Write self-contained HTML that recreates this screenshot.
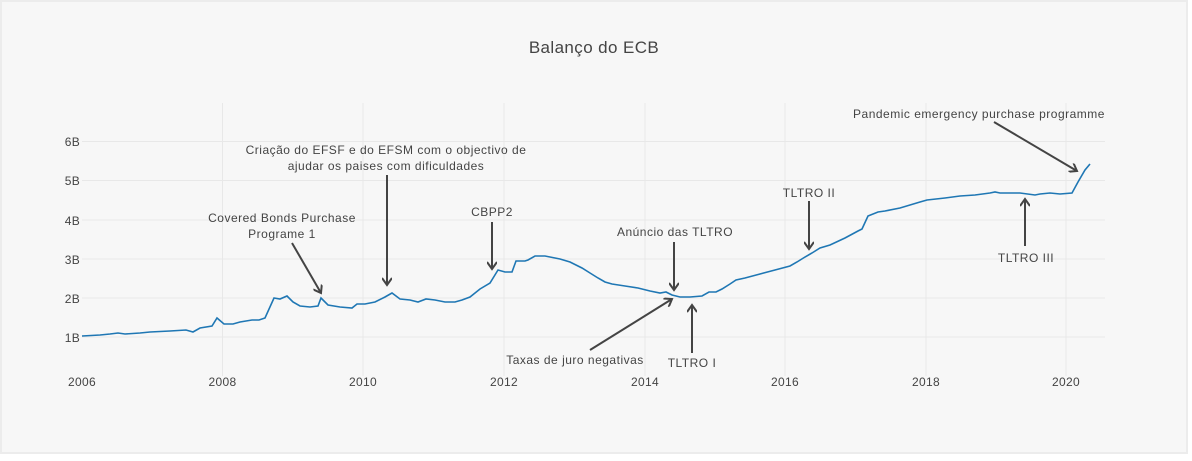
<!DOCTYPE html>
<html><head><meta charset="utf-8"><style>
html,body{margin:0;padding:0;background:#fff;}
svg{display:block;}
text{font-family:"Liberation Sans",sans-serif;fill:#444;}
</style></head><body>
<svg width="1192" height="461" viewBox="0 0 1192 461" xmlns="http://www.w3.org/2000/svg">
<rect x="0" y="0" width="1192" height="461" fill="#fff"/>
<rect x="1" y="1" width="1186" height="452" fill="#f7f7f7" stroke="#ececec" stroke-width="2"/>
<defs><marker id="ah" markerWidth="10" markerHeight="10" refX="8" refY="5" orient="auto" markerUnits="userSpaceOnUse"><path d="M1,0 L8,5 L1,10" fill="none" stroke="#444" stroke-width="2"/></marker></defs>
<g stroke="#e8e8e8" stroke-width="1">
<line x1="222.5" y1="103" x2="222.5" y2="376"/><line x1="363" y1="103" x2="363" y2="376"/><line x1="504" y1="103" x2="504" y2="376"/><line x1="645" y1="103" x2="645" y2="376"/><line x1="785" y1="103" x2="785" y2="376"/><line x1="926" y1="103" x2="926" y2="376"/><line x1="1066" y1="103" x2="1066" y2="376"/>
<line x1="82" y1="337" x2="1105" y2="337"/><line x1="82" y1="298" x2="1105" y2="298"/><line x1="82" y1="259" x2="1105" y2="259"/><line x1="82" y1="220" x2="1105" y2="220"/><line x1="82" y1="180.5" x2="1105" y2="180.5"/><line x1="82" y1="141.5" x2="1105" y2="141.5"/>
</g>
<text x="594" y="53" text-anchor="middle" font-size="17" letter-spacing="0.4">Balanço do ECB</text>
<g font-size="12" text-anchor="end" letter-spacing="0.3">
<text x="80" y="342">1B</text><text x="80" y="303">2B</text><text x="80" y="264">3B</text><text x="80" y="225">4B</text><text x="80" y="185">5B</text><text x="80" y="146">6B</text>
</g>
<g font-size="12" text-anchor="middle" letter-spacing="0.3">
<text x="82" y="386">2006</text><text x="222.5" y="386">2008</text><text x="363" y="386">2010</text><text x="504" y="386">2012</text><text x="645" y="386">2014</text><text x="785" y="386">2016</text><text x="926" y="386">2018</text><text x="1066" y="386">2020</text>
</g>
<polyline fill="none" stroke="#1f77b4" stroke-width="1.6" points="82,336 100,335 110,334 118,333 125,334 140,333 150,332 170,331 186,330 193,332 200,328 212,326 217,318 224,324 233,324 240,322 252,320 259,320 265,318 274,298 280,299 287,296 293,302 300,306 310,307 318,306 321,298 328,305 340,307 352,308 357,304 365,304 375,302 385,297 392,293 400,299 410,300 418,302 426,299 435,300 445,302 455,302 462,300 470,297 480,289 490,283 498,270 505,272 512,272 516,261 525,261 528,260 535,256 545,256 560,259 570,262 582,268 590,273 598,278 605,282 612,284 625,286 638,288 650,291 660,293 666,292 672,295 680,297 690,297 702,296 709,292 716,292 722,289 730,284 736,280 745,278 760,274 775,270 790,266 797,262 805,257 812,253 820,248 830,245 845,238 858,231 862,229 868,216 878,212 885,211 900,208 920,202 927,200 945,198 960,196 975,195 990,193 995,192 1000,193 1020,193 1035,195 1040,194 1050,193 1060,194 1072,193 1078,182 1085,170 1090,164"/>
<g stroke="#444" stroke-width="2" fill="none" marker-end="url(#ah)">
<line x1="292" y1="243" x2="321" y2="293"/>
<line x1="387" y1="175" x2="387" y2="285"/>
<line x1="492" y1="222" x2="492" y2="269"/>
<line x1="674" y1="242" x2="674" y2="290"/>
<line x1="590" y1="350" x2="672" y2="299"/>
<line x1="692" y1="353" x2="692" y2="305"/>
<line x1="809" y1="201" x2="809" y2="249"/>
<line x1="1025" y1="246" x2="1025" y2="199"/>
<line x1="994" y1="122" x2="1077" y2="171"/>
</g>
<g font-size="12" text-anchor="middle" letter-spacing="0.5">
<text x="282" y="222">Covered Bonds Purchase</text><text x="282" y="238">Programe 1</text>
<text x="386" y="154">Criação do EFSF e do EFSM com o objectivo de</text><text x="386" y="170">ajudar os paises com dificuldades</text>
<text x="492" y="216">CBPP2</text>
<text x="675" y="236">Anúncio das TLTRO</text>
<text x="575" y="364">Taxas de juro negativas</text>
<text x="692" y="367">TLTRO I</text>
<text x="809" y="197">TLTRO II</text>
<text x="1026" y="262">TLTRO III</text>
<text x="979" y="118">Pandemic emergency purchase programme</text>
</g>
</svg>
</body></html>
